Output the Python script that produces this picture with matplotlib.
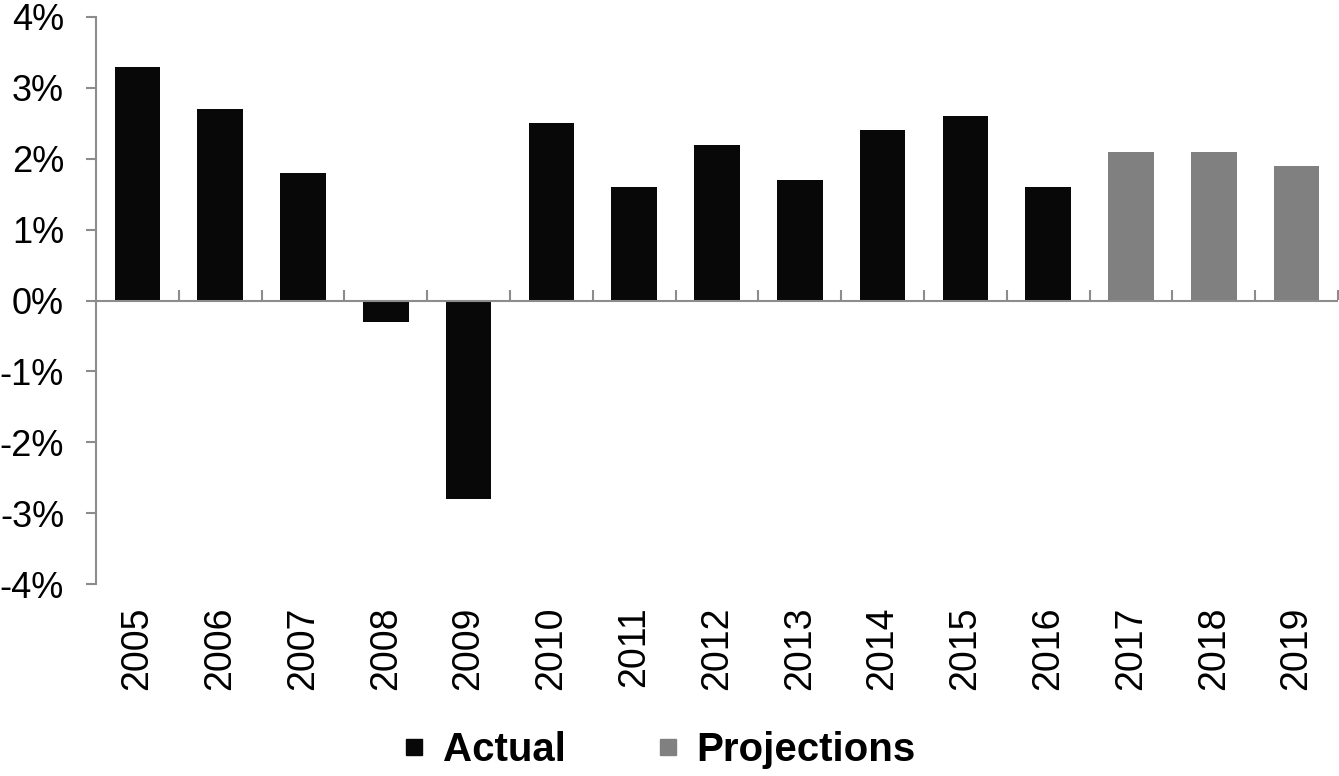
import matplotlib.pyplot as plt
from matplotlib.lines import Line2D
from matplotlib.ticker import FuncFormatter

# Datos
years = ["2005", "2006", "2007", "2008", "2009", "2010", "2011", "2012",
         "2013", "2014", "2015", "2016", "2017", "2018", "2019"]
growth = [3.3, 2.7, 1.8, -0.3, -2.8, 2.5, 1.6, 2.2, 1.7, 2.4, 2.6, 1.6, 2.1, 2.1, 1.9]
kind = ["Actual"] * 12 + ["Projections"] * 3

colores = {"Actual": "#080808", "Projections": "#808080"}
gris_eje = "#8c8c8c"

plt.rcParams["font.family"] = ["Liberation Sans", "DejaVu Sans"]

fig = plt.figure(figsize=(13.39, 7.76), dpi=100)
ax = fig.add_axes([96 / 1339, 192 / 776, 1242 / 1339, 567 / 776])

x = list(range(len(years)))
ax.bar(x, growth, width=0.55, color=[colores[k] for k in kind], zorder=2)

ax.set_xlim(-0.5, len(years) - 0.5)
ax.set_ylim(-4, 4)
ax.set_yticks(range(-4, 5))
ax.yaxis.set_major_formatter(FuncFormatter(lambda v, p: f"{v:.0f}%"))

# etiquetas de anos abajo, sin marcas
ax.set_xticks(x)
ax.set_xticklabels(years, rotation=90)
ax.tick_params(axis="x", length=0, pad=16, labelsize=27)
ax.tick_params(axis="y", length=7, width=1.5, color=gris_eje, pad=16, labelsize=26)

for s in ["top", "right", "bottom"]:
    ax.spines[s].set_visible(False)
ax.spines["left"].set_color(gris_eje)
ax.spines["left"].set_linewidth(1.5)

# linea en cero
ax.axhline(0, color=gris_eje, linewidth=1.5, zorder=3)

# marcas entre categorias sobre la linea de cero
sec = ax.secondary_xaxis(0.5)
sec.set_xticks([i + 0.5 for i in x])
sec.set_xticklabels([])
sec.tick_params(axis="x", direction="out", length=7, width=1.5, color=gris_eje)
for s in ["top", "left", "right", "bottom"]:
    sec.spines[s].set_visible(False)

# Leyenda
handles = [Line2D([], [], marker="s", linestyle="none", markersize=12,
                  color=colores[k], label=k) for k in ["Actual", "Projections"]]
fig.legend(handles=handles, loc="center", bbox_to_anchor=(660 / 1339, 1 - 750 / 776),
           ncol=2, frameon=False, prop={"weight": "bold", "size": 29},
           handlelength=0.5, handletextpad=0.45, columnspacing=2.3)

fig.savefig("out.png", dpi=100)
